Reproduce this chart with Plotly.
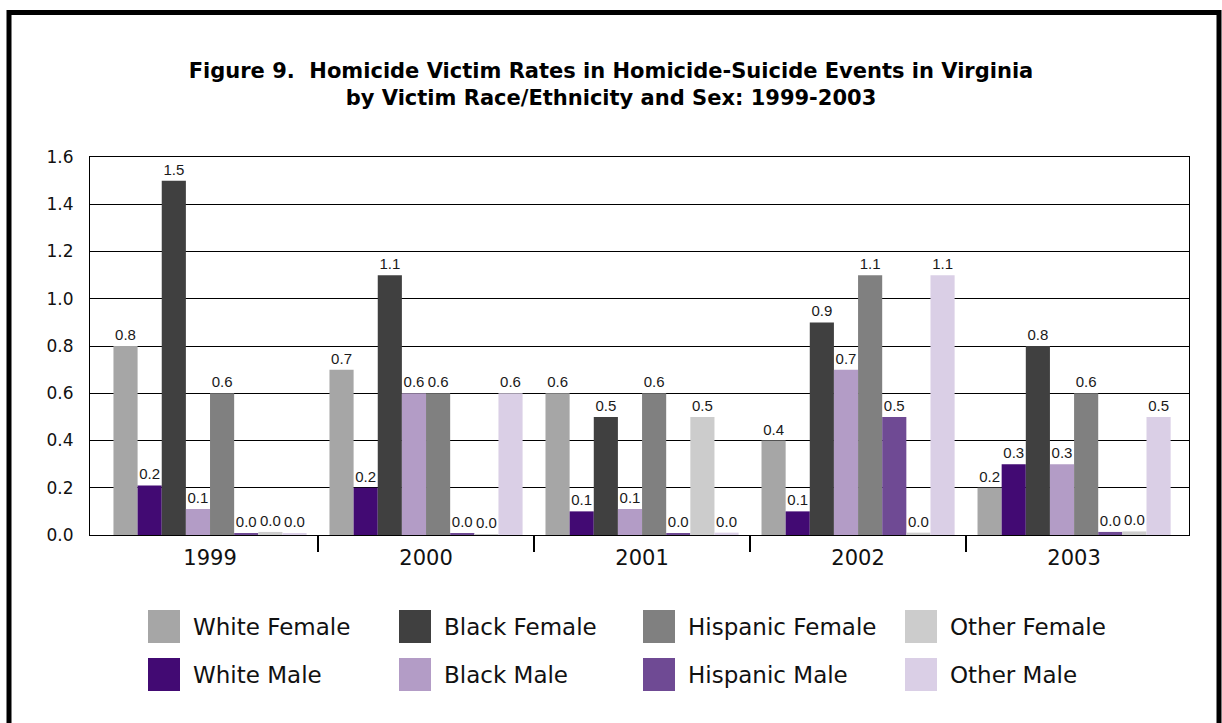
import plotly.graph_objects as go

years = ["1999", "2000", "2001", "2002", "2003"]
series_names = ["White Female", "White Male", "Black Female", "Black Male",
                "Hispanic Female", "Hispanic Male", "Other Female", "Other Male"]
white_female = [0.80, 0.70, 0.60, 0.40, 0.20]
white_male = [0.21, 0.20, 0.10, 0.10, 0.30]
black_female = [1.50, 1.10, 0.50, 0.90, 0.80]
black_male = [0.11, 0.60, 0.11, 0.70, 0.30]
hispanic_female = [0.60, 0.60, 0.60, 1.10, 0.60]
hispanic_male = [0.007, 0.007, 0.005, 0.50, 0.013]
other_female = [0.013, 0.003, 0.50, 0.010, 0.015]
other_male = [0.007, 0.60, 0.010, 1.10, 0.50]
series_values = [white_female, white_male, black_female, black_male,
                 hispanic_female, hispanic_male, other_female, other_male]
colors = ["#a6a6a6", "#420a73", "#404040", "#b39cc6",
          "#808080", "#6f4a94", "#cccccc", "#dacfe6"]
y_ticks = [0.0, 0.2, 0.4, 0.6, 0.8, 1.0, 1.2, 1.4, 1.6]

FONT = "DejaVu Sans"
W, H = 1222, 723
L, R, T, B = 90, 33, 157, 188
PW, PH = W - L - R, H - T - B


def px(x):
    return (x - L) / PW


def py(y):
    return (H - B - y) / PH


fig = go.Figure()
xs = list(range(len(years)))
for name, vals, col in zip(series_names, series_values, colors):
    fig.add_trace(go.Bar(
        x=xs, y=vals, name=name, marker=dict(color=col, line=dict(width=0)),
        texttemplate="%{y:.1f}", textposition="outside", cliponaxis=False,
        constraintext="none", textangle=0,
        textfont=dict(family="Liberation Sans", size=15, color="#1a1a1a"),
        showlegend=False,
    ))

shapes = [
    # outer frame
    dict(type="rect", xref="paper", yref="paper",
         x0=px(9), x1=px(1219), y0=py(12.5), y1=py(730),
         line=dict(color="black", width=5), fillcolor="rgba(0,0,0,0)", layer="below"),
]
annotations = []
# manual legend (2 rows x 4 columns)
col_x = [148, 399, 643, 905]
row_y = [610, 658]
for i, (name, col) in enumerate(zip(series_names, colors)):
    c, r = i // 2, i % 2
    x0, y0 = col_x[c], row_y[r]
    shapes.append(dict(type="rect", xref="paper", yref="paper",
                       x0=px(x0), x1=px(x0 + 32), y0=py(y0), y1=py(y0 + 33),
                       line=dict(width=0), fillcolor=col))
    annotations.append(dict(xref="paper", yref="paper", x=px(x0 + 43), y=py(y0 + 17),
                            text=name, showarrow=False, xanchor="left", yanchor="middle",
                            font=dict(family=FONT, size=23, color="#111")))

fig.update_layout(
    width=W, height=H,
    margin=dict(l=L, r=R, t=T, b=B),
    paper_bgcolor="white", plot_bgcolor="white",
    barmode="group", bargap=0.106, bargroupgap=0,
    title=dict(text="Figure 9.  Homicide Victim Rates in Homicide-Suicide Events in Virginia<br>by Victim Race/Ethnicity and Sex: 1999-2003",
               x=0.5, xref="container", xanchor="center", y=1 - 78 / H, yanchor="middle",
               font=dict(family=FONT, size=21, color="black", weight="bold")),
    xaxis=dict(range=[-0.5556, 4.532], tickvals=xs, ticktext=years, ticks="",
               showgrid=False, showline=True, linecolor="black", linewidth=1, mirror=True,
               tickfont=dict(family=FONT, size=21, color="#111"), zeroline=False,
               ticklabelstandoff=4,
               minor=dict(tickvals=[0.5, 1.5, 2.5, 3.5], ticks="outside", ticklen=16,
                          tickcolor="black", tickwidth=2, showgrid=False)),
    yaxis=dict(range=[0, 1.6], tickvals=y_ticks, tickformat=".1f",
               showgrid=True, gridcolor="black", gridwidth=1,
               showline=True, linecolor="black", linewidth=1, mirror=True,
               zeroline=False, ticks="", ticklen=0, ticklabelstandoff=12,
               tickfont=dict(family=FONT, size=17, color="#111")),
    shapes=shapes, annotations=annotations,
    showlegend=False,
)

fig.write_html("out.html")
